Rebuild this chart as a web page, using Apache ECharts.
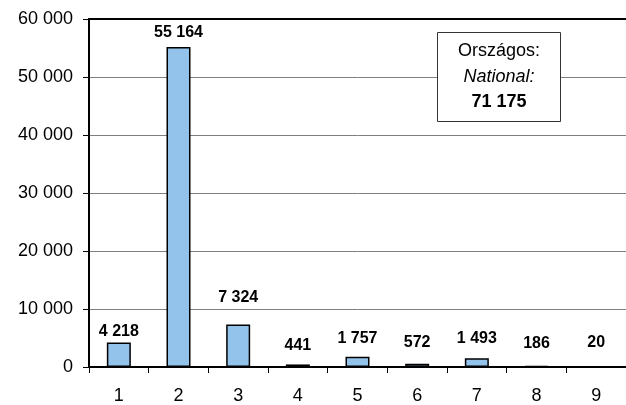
<!DOCTYPE html>
<html>
<head>
<meta charset="utf-8">
<script src="https://cdn.jsdelivr.net/npm/echarts@6/dist/echarts.min.js"></script>
<style>
html,body{margin:0;padding:0;background:#fff;}
#echarts{width:626px;height:405px;}
</style>
</head>
<body>
<div id="echarts"></div>
<script>
var categories=['1','2','3','4','5','6','7','8','9'];
var values=[4218,55164,7324,441,1757,572,1493,186,20];
var yTicks=[0,10000,20000,30000,40000,50000,60000];
var boxLines=['Országos:','National:','71 175'];
// label distance above each bar (px), placed by hand in the original
var labelGap=[3,6,19,11,10,13,12,14,16];

function fmt(v){
    return String(v).replace(/\B(?=(\d{3})+(?!\d))/g,' ');
}

var myChart=echarts.init(document.getElementById('echarts'));
var font='"Liberation Sans", Arial, sans-serif';

var barData=values.map(function(v,i){
    return {value:v,label:{distance:labelGap[i]}};
});

var option={
    animation:false,
    backgroundColor:'#fff',
    grid:{left:89,right:-2,top:19,bottom:38,containLabel:false},
    xAxis:[
        {
            type:'category',
            data:categories,
            axisLine:{lineStyle:{color:'#000',width:2}},
            axisTick:{show:true,length:6,lineStyle:{color:'#000',width:1}},
            axisLabel:{color:'#000',fontSize:18,fontFamily:font,margin:20}
        },
        {
            type:'category',
            position:'top',
            data:categories,
            axisLine:{show:true,lineStyle:{color:'#000',width:2}},
            axisTick:{show:false},
            axisLabel:{show:false}
        }
    ],
    yAxis:{
        type:'value',
        min:yTicks[0],
        max:yTicks[yTicks.length-1],
        interval:yTicks[1]-yTicks[0],
        axisLine:{show:true,lineStyle:{color:'#000',width:2}},
        axisTick:{show:true,length:6,lineStyle:{color:'#000',width:1}},
        axisLabel:{color:'#000',fontSize:18,fontFamily:font,margin:16,formatter:fmt},
        splitLine:{show:true,lineStyle:{color:'#7f7f7f',width:1}}
    },
    series:[
        {
            type:'bar',
            barWidth:24,
            data:barData,
            itemStyle:{color:'#93c2ea',borderColor:'#000',borderWidth:1.5},
            label:{
                show:true,
                position:'top',
                color:'#000',
                fontSize:16,
                fontWeight:'bold',
                fontFamily:font,
                formatter:function(p){return fmt(p.value);}
            }
        }
    ],
    graphic:[
        {
            type:'rect',
            left:437,top:32,
            shape:{width:123,height:89},
            style:{fill:'#fff',stroke:'#333',lineWidth:1},
            z:100
        },
        {
            type:'text',
            x:499,y:51,
            style:{text:boxLines[0],fontSize:18,fontFamily:font,fill:'#000',align:'center',verticalAlign:'middle'},
            z:101
        },
        {
            type:'text',
            x:499,y:77,
            style:{text:boxLines[1],fontSize:18,fontStyle:'italic',fontFamily:font,fill:'#000',align:'center',verticalAlign:'middle'},
            z:101
        },
        {
            type:'text',
            x:499,y:102,
            style:{text:boxLines[2],fontSize:18,fontWeight:'bold',fontFamily:font,fill:'#000',align:'center',verticalAlign:'middle'},
            z:101
        }
    ]
};
myChart.setOption(option);
</script>
</body>
</html>
